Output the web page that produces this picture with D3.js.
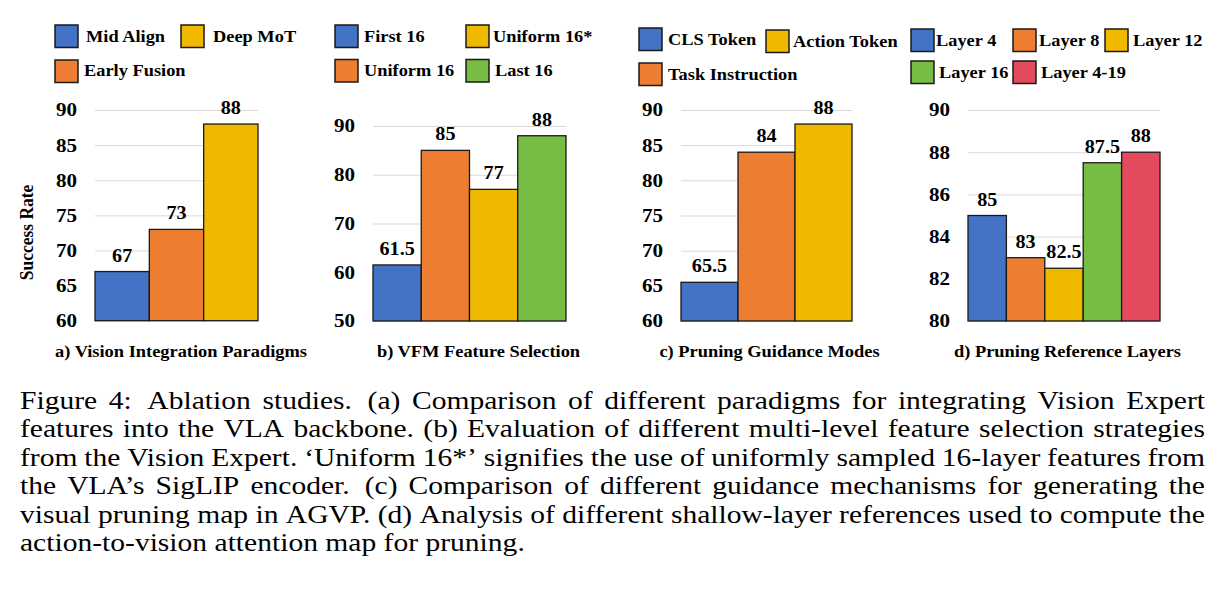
<!DOCTYPE html>
<html>
<head>
<meta charset="utf-8">
<script src="https://cdn.jsdelivr.net/npm/d3@7"></script>
<style>
  html, body { margin: 0; padding: 0; background: #ffffff; }
  svg { display: block; }
</style>
</head>
<body>
<svg id="chart" width="1222" height="594"></svg>
<script>
// ---------------- DATA ----------------
const aCategories = ["Mid Align", "Early Fusion", "Deep MoT"];
const aValues = [67, 73, 88];
const aTicks = [60, 65, 70, 75, 80, 85, 90];
const aTitle = "a) Vision Integration Paradigms";

const bCategories = ["First 16", "Uniform 16", "Uniform 16*", "Last 16"];
const bValues = [61.5, 85, 77, 88];
const bTicks = [50, 60, 70, 80, 90];
const bTitle = "b) VFM Feature Selection";

const cCategories = ["CLS Token", "Task Instruction", "Action Token"];
const cValues = [65.5, 84, 88];
const cTicks = [60, 65, 70, 75, 80, 85, 90];
const cTitle = "c) Pruning Guidance Modes";

const dCategories = ["Layer 4", "Layer 8", "Layer 12", "Layer 16", "Layer 4-19"];
const dValues = [85, 83, 82.5, 87.5, 88];
const dTicks = [80, 82, 84, 86, 88, 90];
const dTitle = "d) Pruning Reference Layers";

const yAxisTitle = "Success Rate";

const captionLines = [
  "Figure 4:  Ablation studies.  (a) Comparison of different paradigms for integrating Vision Expert",
  "features into the VLA backbone. (b) Evaluation of different multi-level feature selection strategies",
  "from the Vision Expert. \u2018Uniform 16*\u2019 signifies the use of uniformly sampled 16-layer features from",
  "the VLA\u2019s SigLIP encoder.  (c) Comparison of different guidance mechanisms for generating the",
  "visual pruning map in AGVP. (d) Analysis of different shallow-layer references used to compute the",
  "action-to-vision attention map for pruning."
];

// ---------------- STYLE / LAYOUT ----------------
const FONT = "Liberation Serif, Times New Roman, serif";
const COLORS = {
  blue: "#4472C4", orange: "#ED7D31", gold: "#F1B800", green: "#77BD43", red: "#E34A5E"
};
const STYLE = {
  tick:   { size: 18.5, sx: 1.14 },
  value:  { size: 18,   sx: 1.12 },
  legend: { size: 16.4, sx: 1.12 },
  title:  { size: 16,   sx: 1.15 },
  axis:   { size: 17.5, sx: 1.1 }
};

const panels = [
  { cats: aCategories, vals: aValues, ticks: aTicks, title: aTitle,
    colors: [COLORS.blue, COLORS.orange, COLORS.gold],
    x0: 95, x1: 258, yTop: 110, yBot: 320.7, domain: [60, 90],
    titleX: 181,
    legend: [ {sx: 55, sy: 25, tx: 86, ty: 42}, {sx: 55, sy: 60, tx: 84, ty: 75.5}, {sx: 181, sy: 25, tx: 213, ty: 42} ] },
  { cats: bCategories, vals: bValues, ticks: bTicks, title: bTitle,
    colors: [COLORS.blue, COLORS.orange, COLORS.gold, COLORS.green],
    x0: 373, x1: 566, yTop: 126, yBot: 321, domain: [50, 90],
    titleX: 478.5,
    legend: [ {sx: 335, sy: 25, tx: 364, ty: 42}, {sx: 335, sy: 59.5, tx: 364, ty: 76}, {sx: 466, sy: 25, tx: 493, ty: 42}, {sx: 466, sy: 59.5, tx: 495, ty: 76} ] },
  { cats: cCategories, vals: cValues, ticks: cTicks, title: cTitle,
    colors: [COLORS.blue, COLORS.orange, COLORS.gold],
    x0: 681, x1: 852, yTop: 110, yBot: 321, domain: [60, 90],
    titleX: 769.5,
    legend: [ {sx: 639, sy: 28, tx: 668, ty: 45}, {sx: 639, sy: 63, tx: 668, ty: 79.5}, {sx: 766, sy: 30, tx: 793, ty: 46.5} ] },
  { cats: dCategories, vals: dValues, ticks: dTicks, title: dTitle,
    colors: [COLORS.blue, COLORS.orange, COLORS.gold, COLORS.green, COLORS.red],
    x0: 968, x1: 1160, yTop: 110, yBot: 321, domain: [80, 90],
    titleX: 1067.5,
    legend: [ {sx: 911, sy: 29, tx: 936, ty: 45.5}, {sx: 1013, sy: 29, tx: 1039, ty: 45.5}, {sx: 1105, sy: 29, tx: 1133, ty: 45.5}, {sx: 911, sy: 61, tx: 939, ty: 77.5}, {sx: 1013, sy: 61, tx: 1041, ty: 77.5} ] }
];

const svg = d3.select("#chart");

function stretchedText(parent, x, y, str, st, anchor) {
  return parent.append("text")
    .attr("transform", `translate(${x},${y}) scale(${st.sx},1)`)
    .attr("text-anchor", anchor || "start")
    .attr("font-family", FONT)
    .attr("font-size", st.size)
    .attr("font-weight", "bold")
    .attr("fill", "#000")
    .text(str);
}

panels.forEach(p => {
  const g = svg.append("g");
  const x = d3.scaleBand().domain(p.cats).range([p.x0, p.x1]).padding(0);
  const y = d3.scaleLinear().domain(p.domain).range([p.yBot, p.yTop]);
  const color = d3.scaleOrdinal().domain(p.cats).range(p.colors);

  // gridlines + tick labels
  const ax = g.append("g")
    .attr("transform", `translate(${p.x0},0)`)
    .call(d3.axisLeft(y).tickValues(p.ticks).tickSize(-(p.x1 - p.x0)).tickPadding(18).tickFormat(d3.format("d")));
  ax.select(".domain").remove();
  ax.selectAll(".tick line").attr("stroke", "#d9d9d9").attr("stroke-width", 1);
  ax.selectAll(".tick text")
    .attr("x", null)
    .attr("transform", `translate(-18,0) scale(${STYLE.tick.sx},1)`)
    .attr("font-family", FONT)
    .attr("font-size", STYLE.tick.size)
    .attr("font-weight", "bold")
    .attr("fill", "#000");

  // bars
  g.selectAll("rect.bar").data(p.cats).enter().append("rect")
    .attr("class", "bar")
    .attr("x", d => x(d))
    .attr("width", x.bandwidth())
    .attr("y", (d, i) => y(p.vals[i]))
    .attr("height", (d, i) => y(p.domain[0]) - y(p.vals[i]))
    .attr("fill", d => color(d))
    .attr("stroke", "#1a1a1a")
    .attr("stroke-width", 1.3);

  // value labels
  p.cats.forEach((c, i) => {
    stretchedText(g, x(c) + x.bandwidth() / 2, y(p.vals[i]) - 10, String(p.vals[i]), STYLE.value, "middle");
  });

  // subtitle
  stretchedText(g, p.titleX, 357, p.title, STYLE.title, "middle");

  // legend
  p.cats.forEach((c, i) => {
    const L = p.legend[i];
    g.append("rect")
      .attr("x", L.sx).attr("y", L.sy).attr("width", 23).attr("height", 22.5)
      .attr("fill", color(c)).attr("stroke", "#1a1a1a").attr("stroke-width", 1.5);
    stretchedText(g, L.tx, L.ty, c, STYLE.legend, "start");
  });
});

// y axis title (panel a)
svg.append("text")
  .attr("transform", `translate(33,232.5) scale(${STYLE.axis.sx},1) rotate(-90)`)
  .attr("text-anchor", "middle")
  .attr("font-family", FONT)
  .attr("font-size", STYLE.axis.size)
  .attr("font-weight", "bold")
  .text(yAxisTitle);

// ---------------- CAPTION ----------------
const capLeft = 20, capRight = 1205, capBase0 = 408.5, capLead = 28.55, capSize = 26;
const lastLineTarget = 505;
const capG = svg.append("g");
const probe = capG.append("text").attr("font-family", FONT).attr("font-size", capSize)
  .text(captionLines[captionLines.length - 1]);
const capSX = lastLineTarget / probe.node().getComputedTextLength();
probe.remove();

captionLines.forEach((line, li) => {
  const t = capG.append("text")
    .attr("transform", `translate(${capLeft},${capBase0 + li * capLead}) scale(${capSX},1)`)
    .attr("font-family", FONT)
    .attr("font-size", capSize)
    .attr("fill", "#000");
  const isLast = li === captionLines.length - 1;
  if (isLast) { t.text(line); return; }
  // justify: split into words, measure, distribute extra space
  const words = line.split(/ +/);
  const gapsRaw = line.match(/ +/g) || [];
  const widths = words.map(w => {
    const m = capG.append("text").attr("font-family", FONT).attr("font-size", capSize).text(w);
    const wd = m.node().getComputedTextLength(); m.remove(); return wd;
  });
  const spaceW = capSize * 0.25;
  const gapWeights = gapsRaw.map(s => s.length > 1 ? 1.35 : 1);
  const naturalGaps = gapWeights.reduce((a, b) => a + b, 0) * spaceW;
  const avail = (capRight - capLeft) / capSX;
  const totalWords = widths.reduce((a, b) => a + b, 0);
  const scaleGap = (avail - totalWords) / naturalGaps;
  let cx = 0;
  words.forEach((w, i) => {
    t.append("tspan").attr("x", cx).text(w);
    cx += widths[i];
    if (i < gapWeights.length) cx += gapWeights[i] * spaceW * scaleGap;
  });
});
</script>
</body>
</html>
